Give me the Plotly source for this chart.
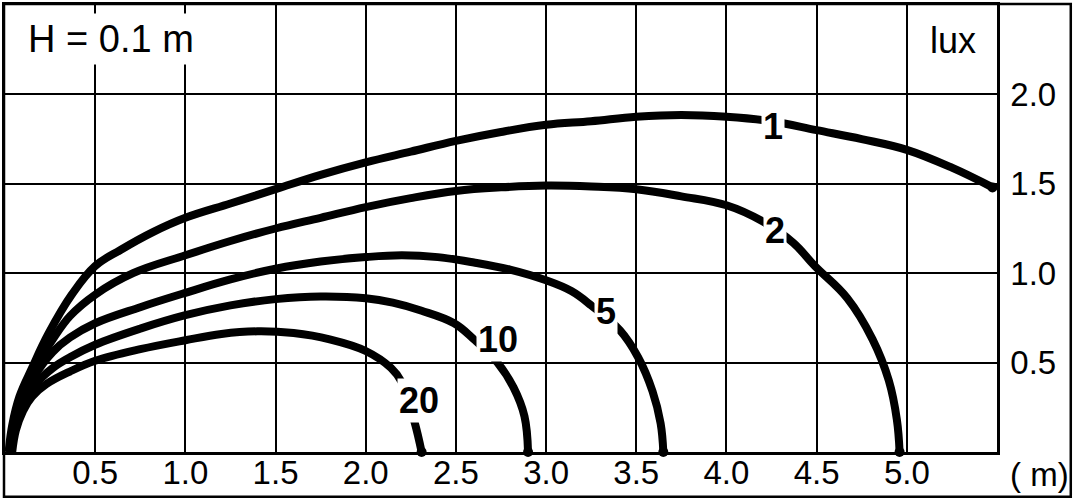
import plotly.graph_objects as go

# ---- data (distance in m, illuminance in lux) ----
curve_names = ["1", "2", "5", "10", "20"]

x1 = [0.02, 0.04, 0.08, 0.15, 0.24, 0.37, 0.5, 0.64, 0.82, 1.0, 1.25, 1.5, 1.75, 2.0, 2.25, 2.5, 2.75, 3.0, 3.25, 3.5, 3.75, 4.0, 4.25, 4.5, 4.75, 5.0, 5.25, 5.475]
y1 = [0.0, 0.15, 0.31, 0.47, 0.66, 0.88, 1.04, 1.13, 1.23, 1.31, 1.39, 1.47, 1.55, 1.62, 1.68, 1.74, 1.79, 1.83, 1.85, 1.875, 1.885, 1.875, 1.85, 1.80, 1.75, 1.69, 1.59, 1.48]

x2 = [0.025, 0.045, 0.085, 0.155, 0.265, 0.36, 0.5, 0.71, 1.0, 1.25, 1.5, 1.75, 2.0, 2.25, 2.5, 2.75, 3.0, 3.25, 3.5, 3.75, 4.0, 4.2, 4.37, 4.49, 4.67, 4.81, 4.9, 4.945, 4.96]
y2 = [0.0, 0.15, 0.29, 0.45, 0.63, 0.76, 0.88, 1.0, 1.10, 1.18, 1.25, 1.31, 1.37, 1.42, 1.46, 1.48, 1.49, 1.485, 1.47, 1.43, 1.38, 1.29, 1.17, 1.04, 0.86, 0.63, 0.40, 0.18, 0.0]

x5 = [0.03, 0.05, 0.095, 0.16, 0.265, 0.36, 0.5, 0.75, 1.0, 1.25, 1.5, 1.75, 2.0, 2.2, 2.4, 2.6, 2.8, 3.0, 3.14, 3.25, 3.41, 3.51, 3.59, 3.635, 3.65]
y5 = [0.0, 0.15, 0.29, 0.42, 0.56, 0.64, 0.72, 0.81, 0.89, 0.965, 1.025, 1.065, 1.09, 1.10, 1.09, 1.06, 1.02, 0.96, 0.90, 0.82, 0.68, 0.53, 0.34, 0.16, 0.0]

x10 = [0.035, 0.055, 0.1, 0.17, 0.265, 0.36, 0.5, 0.75, 1.0, 1.25, 1.5, 1.75, 2.0, 2.15, 2.31, 2.49, 2.6, 2.73, 2.82, 2.88, 2.9]
y10 = [0.0, 0.14, 0.27, 0.38, 0.47, 0.53, 0.60, 0.69, 0.765, 0.82, 0.855, 0.87, 0.86, 0.835, 0.79, 0.72, 0.63, 0.50, 0.36, 0.20, 0.0]

x20 = [0.04, 0.06, 0.1, 0.15, 0.23, 0.36, 0.5, 0.75, 1.0, 1.2, 1.4, 1.6, 1.8, 2.0, 2.14, 2.2, 2.27, 2.31]
y20 = [0.0, 0.12, 0.23, 0.31, 0.38, 0.45, 0.51, 0.575, 0.625, 0.66, 0.675, 0.665, 0.63, 0.565, 0.47, 0.39, 0.17, 0.0]

# label positions on the curves
label_x = [4.26, 4.27, 3.33, 2.735, 2.295]
label_y = [1.82, 1.24, 0.785, 0.63, 0.286]

x_ticks = [0.5, 1.0, 1.5, 2.0, 2.5, 3.0, 3.5, 4.0, 4.5, 5.0]
x_ticktext = ["0.5", "1.0", "1.5", "2.0", "2.5", "3.0", "3.5", "4.0", "4.5", "5.0"]
y_ticks = [0.5, 1.0, 1.5, 2.0]
y_ticktext = ["0.5", "1.0", "1.5", "2.0"]

FONT = "Liberation Sans"

fig = go.Figure()
curves = [(x1, y1), (x2, y2), (x5, y5), (x10, y10), (x20, y20)]
for name, (xs, ys) in zip(curve_names, curves):
    fig.add_trace(go.Scatter(
        x=xs, y=ys, mode="lines", name=name,
        line=dict(color="black", width=8, shape="spline", smoothing=1.1),
        hoverinfo="skip", showlegend=False,
    ))

# end dots
fig.add_trace(go.Scatter(
    x=[c[0][-1] for c in curves], y=[c[1][-1] for c in curves],
    mode="markers", marker=dict(color="black", size=10),
    hoverinfo="skip", showlegend=False, cliponaxis=False,
))

for name, lx, ly in zip(curve_names, label_x, label_y):
    fig.add_annotation(
        x=lx, y=ly, xref="x", yref="y", text=name, showarrow=False,
        font=dict(family=FONT, size=36, color="black", weight="bold"),
        bgcolor="white", borderpad=1,
    )

fig.add_annotation(
    x=(20 - 2) / 995, y=(452 - 36) / 450, xref="paper", yref="paper",
    text="H = 0.1 m", showarrow=False, xanchor="left", yanchor="middle",
    font=dict(family=FONT, size=38, color="black"),
    bgcolor="white", borderpad=4,
)
fig.add_annotation(
    x=(953 - 2) / 995, y=(452 - 38) / 450, xref="paper", yref="paper",
    text="lux", showarrow=False, xanchor="center", yanchor="middle",
    font=dict(family=FONT, size=36, color="black"),
)
fig.add_annotation(
    x=(1071 - 2) / 995, y=(452 - 475) / 450, xref="paper", yref="paper",
    text="( m)", showarrow=False, xanchor="right", yanchor="middle",
    font=dict(family=FONT, size=33, color="black"),
)

# outer border
fig.add_shape(
    type="rect", xref="paper", yref="paper",
    x0=(1 - 2) / 995, x1=(1071 - 2) / 995, y0=(452 - 497) / 450, y1=(452 - 1) / 450,
    line=dict(color="black", width=2.5), fillcolor="rgba(0,0,0,0)", layer="above",
)

fig.update_layout(
    width=1074, height=500,
    margin=dict(l=2, r=77, t=2, b=48),
    paper_bgcolor="white", plot_bgcolor="white",
    font=dict(family=FONT, color="black"),
)
fig.update_xaxes(
    range=[0, 5.5], tickvals=x_ticks, ticktext=x_ticktext,
    showgrid=True, gridcolor="black", gridwidth=2,
    showline=True, linecolor="black", linewidth=2.5, mirror=True,
    zeroline=False, ticks="", tickfont=dict(family=FONT, size=33),
    ticklabelstandoff=-10,
)
fig.update_yaxes(
    range=[0, 2.5], tickvals=y_ticks, ticktext=y_ticktext, side="right",
    showgrid=True, gridcolor="black", gridwidth=2,
    showline=True, linecolor="black", linewidth=2.5, mirror=True,
    zeroline=False, ticks="", tickfont=dict(family=FONT, size=33),
    ticklabelstandoff=4,
)

fig.write_html(
    "out.html",
    config={"displayModeBar": False},
    post_script="document.body.style.margin='0';document.body.style.overflow='hidden';",
)
